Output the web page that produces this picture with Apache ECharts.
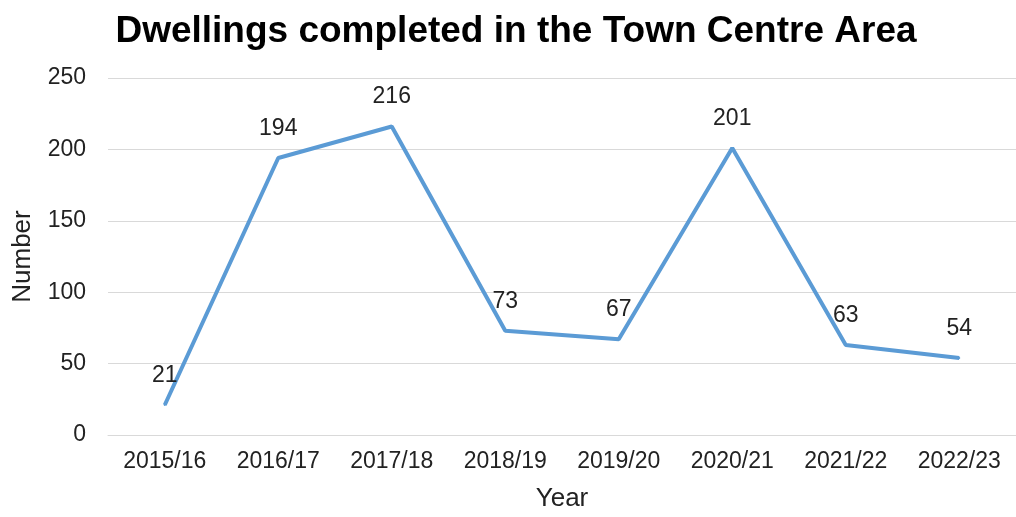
<!DOCTYPE html>
<html><head><meta charset="utf-8">
<script src="https://cdn.jsdelivr.net/npm/echarts@6/dist/echarts.min.js"></script>
<style>html,body{margin:0;padding:0;background:#fff}#c{width:1016px;height:517px}</style>
</head><body><div id="c"></div>
<script>
const categories = ['2015/16','2016/17','2017/18','2018/19','2019/20','2020/21','2021/22','2022/23'];
const values = [21, 194, 216, 73, 67, 201, 63, 54];
const yTicks = {min: 0, max: 250, interval: 50};
const titleText = 'Dwellings completed in the Town Centre Area';

const chart = echarts.init(document.getElementById('c'));
const font = '"Liberation Sans", Arial, sans-serif';
chart.setOption({
  animation: false,
  backgroundColor: '#fff',
  title: {
    text: titleText, left: 511, textAlign: 'center', top: 8,
    textStyle: {fontFamily: font, fontSize: 37, fontWeight: 'bold', color: '#000'}
  },
  grid: {left: 108, right: 0, top: 78, bottom: 81},
  xAxis: {
    type: 'category', data: categories, boundaryGap: true,
    name: 'Year', nameLocation: 'middle', nameGap: 51,
    nameTextStyle: {fontFamily: font, fontSize: 26, color: '#222'},
    axisLine: {show: true, lineStyle: {color: '#d9d9d9', width: 1}},
    axisTick: {show: false},
    axisLabel: {fontFamily: font, fontSize: 23, color: '#222', margin: 15}
  },
  yAxis: {
    type: 'value', min: yTicks.min, max: yTicks.max, interval: yTicks.interval,
    name: 'Number', nameLocation: 'middle', nameGap: 72,
    nameTextStyle: {fontFamily: font, fontSize: 26, color: '#222'},
    axisLine: {show: false}, axisTick: {show: false},
    axisLabel: {fontFamily: font, fontSize: 23, color: '#222', margin: 22},
    splitLine: {lineStyle: {color: '#d9d9d9', width: 1}}
  },
  series: [{
    type: 'line', data: values, symbol: 'circle', symbolSize: 2, showSymbol: true,
    lineStyle: {color: '#5b9bd5', width: 4},
    itemStyle: {color: '#5b9bd5'},
    label: {show: true, position: 'top', distance: 17, fontFamily: font, fontSize: 23, color: '#222'},
    labelLayout: {hideOverlap: false}
  }]
});
</script></body></html>
